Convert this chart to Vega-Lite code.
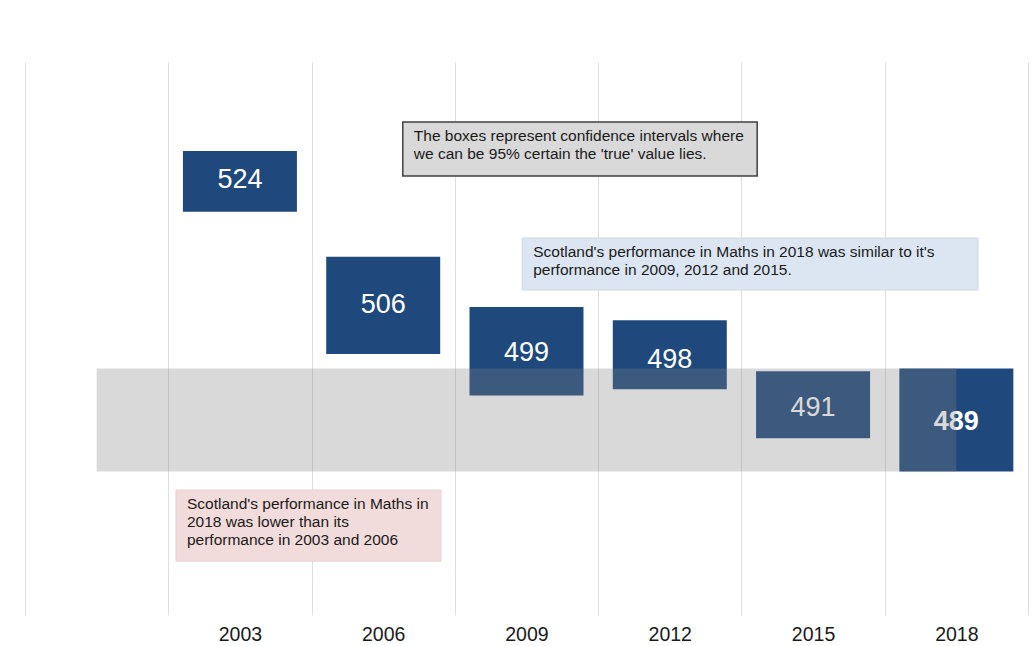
{
  "$schema": "https://vega.github.io/schema/vega-lite/v6.json",
  "width": 1003,
  "height": 553,
  "autosize": {"type": "none"},
  "padding": {"left": 25, "top": 62, "right": 5, "bottom": 31},
  "background": "white",
  "config": {"view": {"stroke": null}, "font": "Liberation Sans"},
  "datasets": {
    "scores": [
      {"year": 2003, "score": 524, "low": 519.6, "high": 528.4},
      {"year": 2006, "score": 506, "low": 499.0, "high": 513.1},
      {"year": 2009, "score": 499, "low": 493.0, "high": 505.8},
      {"year": 2012, "score": 498, "low": 493.9, "high": 503.9},
      {"year": 2015, "score": 491, "low": 486.8, "high": 496.5},
      {"year": 2018, "score": 489, "low": 482.0, "high": 496.9}
    ],
    "band": [
      {"start": 2000, "end": 2018, "low": 482.0, "high": 496.9}
    ],
    "notes": [
      {"kind": "info", "x1": 2006.41, "x2": 2013.83, "y1": 524.8, "y2": 532.6, "text": "The boxes represent confidence intervals where\nwe can be 95% certain the 'true' value lies."},
      {"kind": "similar", "x1": 2008.91, "x2": 2018.45, "y1": 508.3, "y2": 515.8, "text": "Scotland's performance in Maths in 2018 was similar to it's\nperformance in 2009, 2012 and 2015."},
      {"kind": "lower", "x1": 2001.66, "x2": 2007.21, "y1": 469.0, "y2": 479.3, "text": "Scotland's performance in Maths in\n2018 was lower than its\nperformance in 2003 and 2006"}
    ]
  },
  "layer": [
    {
      "data": {"name": "scores"},
      "mark": {"type": "bar", "color": "#1f497d", "width": 114},
      "encoding": {
        "x": {
          "field": "year",
          "type": "quantitative",
          "scale": {"domain": [1998.5, 2019.5], "nice": false, "zero": false, "padding": 0},
          "axis": {
            "values": [1998.5, 2001.5, 2004.5, 2007.5, 2010.5, 2013.5, 2016.5, 2019.5],
            "labelExpr": "datum.value > 2000 && datum.value < 2019 ? format(datum.value + 1.5, 'd') : ''",
            "labelOffset": 71.6,
            "grid": true,
            "gridColor": "#dedede",
            "gridWidth": 1,
            "domain": false,
            "ticks": false,
            "title": null,
            "labelFontSize": 19.5,
            "labelColor": "#1a1a1a",
            "labelPadding": 10,
            "labelFont": "Liberation Sans",
            "labelFlush": false,
            "labelOverlap": false
          }
        },
        "y": {
          "field": "low",
          "type": "quantitative",
          "scale": {"domain": [461.2, 541.3], "nice": false, "zero": false},
          "axis": null
        },
        "y2": {"field": "high"}
      }
    },
    {
      "data": {"name": "scores"},
      "transform": [{"filter": "datum.year < 2018"}],
      "mark": {"type": "text", "color": "white", "fontSize": 27, "font": "Liberation Sans", "baseline": "middle", "align": "center", "dy": -1},
      "encoding": {
        "x": {"field": "year", "type": "quantitative"},
        "y": {"field": "score", "type": "quantitative"},
        "text": {"field": "score", "type": "nominal"}
      }
    },
    {
      "data": {"name": "scores"},
      "transform": [{"filter": "datum.year >= 2018"}],
      "mark": {"type": "text", "color": "white", "fontSize": 27, "fontWeight": "bold", "font": "Liberation Sans", "baseline": "middle", "align": "center", "dy": -1},
      "encoding": {
        "x": {"field": "year", "type": "quantitative"},
        "y": {"field": "score", "type": "quantitative"},
        "text": {"field": "score", "type": "nominal"}
      }
    },
    {
      "data": {"name": "band"},
      "mark": {"type": "rect", "color": "#828282", "opacity": 0.3},
      "encoding": {
        "x": {"field": "start", "type": "quantitative"},
        "x2": {"field": "end"},
        "y": {"field": "low", "type": "quantitative"},
        "y2": {"field": "high"}
      }
    },
    {
      "data": {"name": "notes"},
      "mark": {"type": "rect"},
      "encoding": {
        "x": {"field": "x1", "type": "quantitative"},
        "x2": {"field": "x2"},
        "y": {"field": "y1", "type": "quantitative"},
        "y2": {"field": "y2"},
        "fill": {
          "field": "kind",
          "type": "nominal",
          "scale": {"domain": ["info", "similar", "lower"], "range": ["#d9d9d9", "#dce6f2", "#f2dcdb"]},
          "legend": null
        },
        "stroke": {
          "field": "kind",
          "type": "nominal",
          "scale": {"domain": ["info", "similar", "lower"], "range": ["#404040", "#d0dcea", "#ead2d1"]},
          "legend": null
        },
        "strokeWidth": {
          "field": "kind",
          "type": "nominal",
          "scale": {"domain": ["info", "similar", "lower"], "range": [1.5, 1, 1]},
          "legend": null
        }
      }
    },
    {
      "data": {"name": "notes"},
      "mark": {"type": "text", "align": "left", "baseline": "top", "dx": 11, "dy": 7, "fontSize": 15.5, "lineHeight": 18, "lineBreak": "\n", "color": "#1a1a1a", "font": "Liberation Sans"},
      "encoding": {
        "x": {"field": "x1", "type": "quantitative"},
        "y": {"field": "y2", "type": "quantitative"},
        "text": {"field": "text", "type": "nominal"}
      }
    }
  ]
}
